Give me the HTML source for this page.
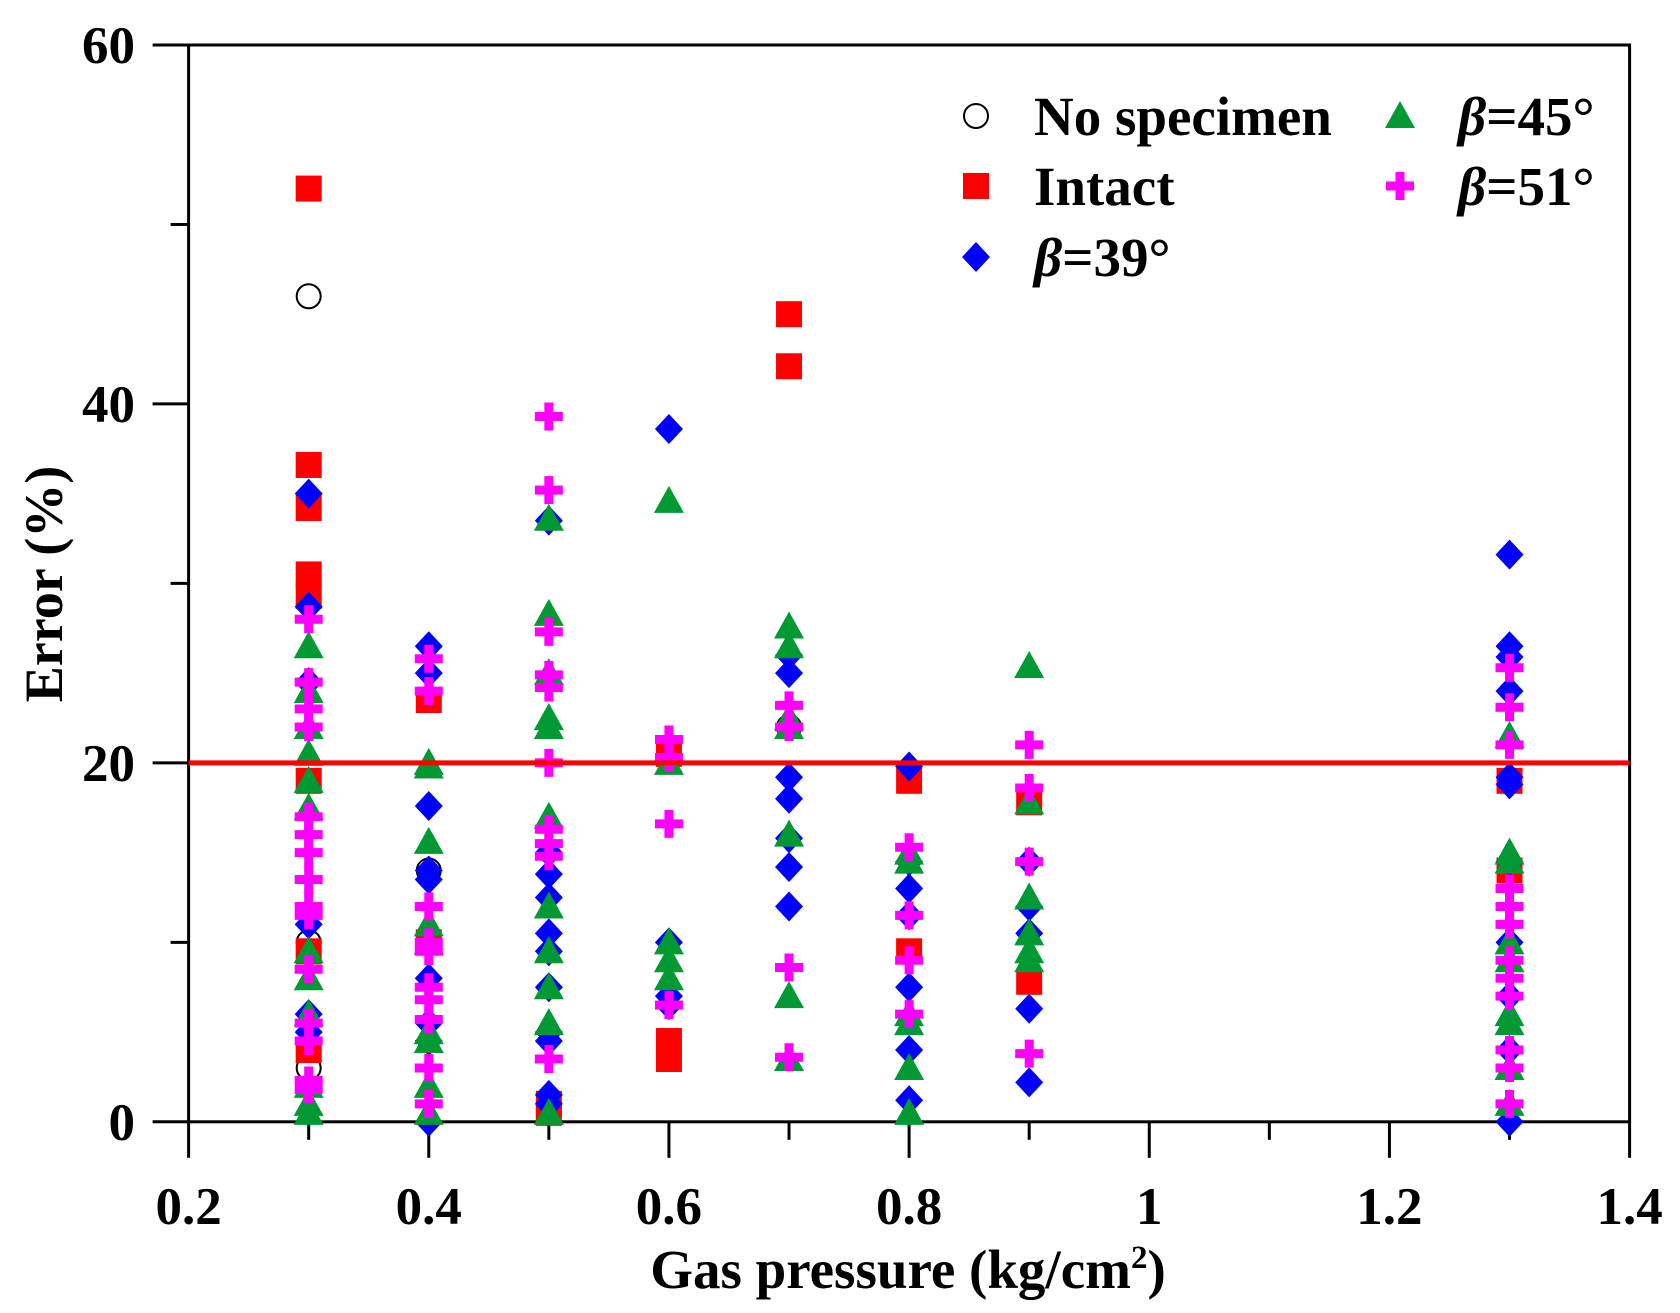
<!DOCTYPE html>
<html><head><meta charset="utf-8">
<style>
html,body{margin:0;padding:0;background:#fff;}
svg{display:block;font-family:"Liberation Serif",serif;font-weight:bold;}
</style></head>
<body>
<svg id="chart" width="1680" height="1313" viewBox="0 0 1680 1313" xmlns="http://www.w3.org/2000/svg">
<g id="axes"></g>
<g id="marks"></g>
<g id="legend"></g>
</svg>
<script>
const xTicks=[0.2,0.4,0.6,0.8,1,1.2,1.4];
const xTickLabels=["0.2","0.4","0.6","0.8","1","1.2","1.4"];
const yTicks=[0,20,40,60];
const threshold=20;
const noSpecX=[0.3,0.3,0.3,0.4,0.7];
const noSpecY=[46,10,3,14,22];
const intactX=[0.3,0.3,0.3,0.3,0.3,0.3,0.3,0.3,0.4,0.4,0.5,0.5,0.6,0.6,0.6,0.7,0.7,0.8,0.8,0.9,0.9,1.3,1.3];
const intactY=[52,36.6,34.2,30.5,29.3,19,9.5,4,23.5,10,1,0.5,4.5,3.5,20.5,45,42.1,19,9.5,17.8,7.8,19,14];
const b39X=[0.3,0.3,0.3,0.3,0.3,0.3,0.4,0.4,0.4,0.4,0.4,0.4,0.4,0.4,0.4,0.5,0.5,0.5,0.5,0.5,0.5,0.5,0.5,0.5,0.5,0.5,0.6,0.6,0.6,0.6,0.7,0.7,0.7,0.7,0.7,0.7,0.7,0.8,0.8,0.8,0.8,0.8,0.8,0.8,0.9,0.9,0.9,0.9,0.9,1.3,1.3,1.3,1.3,1.3,1.3,1.3,1.3,1.3,1.3,1.3];
const b39Y=[35,28.7,24.5,11,6,5,26.5,25,17.6,14,13.5,8,5.5,4.5,0,33.5,15,13.8,12.5,10.5,9.5,7.5,5,4.5,1.5,1,38.6,10,7,6.5,26,25,19.2,18,15.8,14.2,12,19.8,14.5,13,11.5,7.5,4,1.2,14.5,12,10.5,6.3,2.2,31.6,26.5,25.9,24,19.2,18.8,14.5,10,7,4,0];
const b45X=[0.3,0.3,0.3,0.3,0.3,0.3,0.3,0.3,0.3,0.3,0.3,0.3,0.4,0.4,0.4,0.4,0.4,0.4,0.4,0.4,0.4,0.5,0.5,0.5,0.5,0.5,0.5,0.5,0.5,0.5,0.5,0.5,0.6,0.6,0.6,0.6,0.6,0.7,0.7,0.7,0.7,0.7,0.7,0.7,0.8,0.8,0.8,0.8,0.8,0.8,0.9,0.9,0.9,0.9,0.9,0.9,1.3,1.3,1.3,1.3,1.3,1.3,1.3,1.3,1.3];
const b45Y=[26.5,24,22,20.5,19,17.5,9.5,8,6,2,1,0.5,20,19.8,15.6,11,10,5,4.5,2,0.5,33.6,28.3,25,22.5,22,17,12,9.5,7.5,5.5,0.5,34.6,20,10,9,8,27.6,26.5,22.5,22,16,7,3.5,15,14.5,6,5.5,3,0.5,25.4,17.8,12.5,10.5,9.5,9,21.5,15,14.5,10,9,6,5.5,3,1];
const b51X=[0.3,0.3,0.3,0.3,0.3,0.3,0.3,0.3,0.3,0.3,0.3,0.3,0.3,0.3,0.3,0.4,0.4,0.4,0.4,0.4,0.4,0.4,0.4,0.4,0.4,0.5,0.5,0.5,0.5,0.5,0.5,0.5,0.5,0.5,0.5,0.6,0.6,0.6,0.6,0.7,0.7,0.7,0.7,0.8,0.8,0.8,0.8,0.9,0.9,0.9,0.9,1.3,1.3,1.3,1.3,1.3,1.3,1.3,1.3,1.3,1.3,1.3,1.3];
const b51Y=[28,24.5,23,22,17,16,15,13.5,12,11.5,8.5,5.5,4.5,2.3,1.8,25.8,24,12,10,9.5,7.5,6.8,5.7,3,1,39.3,35.2,27.3,24.9,24.2,20,16.3,14.8,15.5,3.5,21.3,20.3,16.6,6.5,23.2,22,8.6,3.6,15.3,11.5,9,6,21,18.6,14.5,3.8,25.3,23.1,21,13,12,11,9,8,7,4,3,1];

const NS="http://www.w3.org/2000/svg";
const L=188.6,R=1629.6,T=45,B=1121.8;
const xs=v=>L+(v-0.2)/1.2*(R-L);
const ys=v=>B-v/60*(B-T);
function mk(tag,attrs,parent,text){const e=document.createElementNS(NS,tag);for(const k in attrs)e.setAttribute(k,attrs[k]);if(text!==undefined)e.textContent=text;parent.appendChild(e);return e;}
const ax=document.getElementById('axes'),mg=document.getElementById('marks'),lg=document.getElementById('legend');

let fr=mk('rect',{x:L,y:T,width:R-L,height:B-T,fill:'none',stroke:'#000','stroke-width':3},ax);


for(let i=0;i<yTicks.length;i++){
 const y=ys(yTicks[i]);
 let t=mk('line',{x1:L-36,x2:L,y1:y,y2:y,stroke:'#000','stroke-width':3},ax);
 
 
 let lb=mk('text',{x:135,y:y+18,'text-anchor':'end','font-size':53},ax,String(yTicks[i]));
 
 
 if(i<yTicks.length-1){const ym=ys((yTicks[i]+yTicks[i+1])/2);
  let m=mk('line',{x1:L-18,x2:L,y1:ym,y2:ym,stroke:'#000','stroke-width':3},ax);
  
  }
}
for(let i=0;i<xTicks.length;i++){
 const x=xs(xTicks[i]);
 let t=mk('line',{x1:x,x2:x,y1:B,y2:B+36,stroke:'#000','stroke-width':3},ax);
 
 
 let lb=mk('text',{x:x,y:1224,'text-anchor':'middle','font-size':53},ax,xTickLabels[i]);
 
 
 if(i<xTicks.length-1){const xm=xs((xTicks[i]+xTicks[i+1])/2);
  let m=mk('line',{x1:xm,x2:xm,y1:B,y2:B+18,stroke:'#000','stroke-width':3},ax);
  
  }
}
let xt=mk('text',{x:908,y:1288,'text-anchor':'middle','font-size':55},ax);
xt.innerHTML='Gas pressure (kg/cm<tspan dy="-20" font-size="33">2</tspan><tspan dy="20">)</tspan>';


let yt=mk('text',{x:0,y:0,'text-anchor':'middle','font-size':54,transform:'translate(62,584) rotate(-90)'},ax,'Error (%)');



function marker(type,cx,cy,g){
 if(type==='circle')return mk('circle',{cx,cy,r:12,fill:'#fff',stroke:'#000','stroke-width':2},g);
 if(type==='square')return mk('rect',{x:cx-13,y:cy-13,width:26,height:26,fill:'#f00'},g);
 if(type==='diamond')return mk('polygon',{points:`${cx},${cy-15} ${cx+14},${cy} ${cx},${cy+15} ${cx-14},${cy}`,fill:'#00f'},g);
 if(type==='tri')return mk('polygon',{points:`${cx},${cy-15} ${cx+15},${cy+12} ${cx-15},${cy+12}`,fill:'#009933'},g);
 return mk('path',{d:`M${cx-14},${cy}H${cx+14}M${cx},${cy-14}V${cy+14}`,stroke:'#f0f','stroke-width':9,fill:'none'},g);
}
const series=[['no-specimen','circle',noSpecX,noSpecY],['intact','square',intactX,intactY],['beta-39','diamond',b39X,b39Y],['beta-45','tri',b45X,b45Y],['beta-51','plus',b51X,b51Y]];
for(const s of series){
 const g=mk('g',{},mg);
 
 
 for(let i=0;i<s[2].length;i++){
  const e=marker(s[1],xs(s[2][i]),ys(s[3][i]),g);
  
  
 }
}
let th=mk('line',{x1:L,x2:R,y1:ys(threshold),y2:ys(threshold),stroke:'#f00','stroke-width':5},mg);



const leg=[['circle',976,116,'No specimen',false],['square',976,186,'Intact',false],['diamond',976,257,'=39°',true],['tri',1400,116,'=45°',true],['plus',1400,186,'=51°',true]];
for(const e of leg){
 const m=marker(e[0],e[1],e[2],lg);
 
 
 const t=mk('text',{x:e[1]+58,y:e[2]+19,'font-size':55},lg);
 if(e[4]){t.innerHTML='<tspan font-style="italic">β</tspan>'+e[3];}else t.textContent=e[3];
 
 
}
</script>
</body></html>
